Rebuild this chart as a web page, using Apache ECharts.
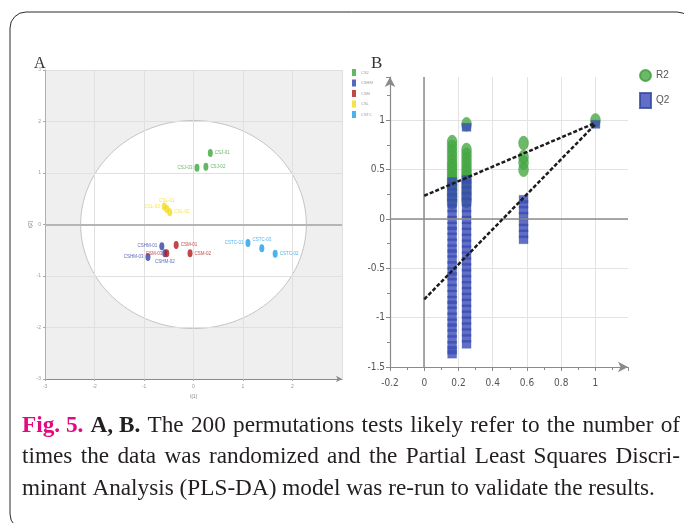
<!DOCTYPE html>
<html><head><meta charset="utf-8">
<script src="https://cdn.jsdelivr.net/npm/echarts@6/dist/echarts.min.js"></script>
<style>html,body{margin:0;padding:0;background:#fff}#c{width:684px;height:523px}</style>
</head><body><div id="c"></div>
<script>
// ---------- Panel A: PLS-DA scores ----------
const groupsA = ['CSJ', 'CSHM', 'CSM', 'CSL', 'CSTC'];
const colorsA = ['#3ca83c', '#3242a8', '#b3191c', '#f2dc1e', '#1e9fe8'];
const namesCSJ = ['CSJ-01', 'CSJ-03', 'CSJ-02'];
const xCSJ = [0.34, 0.07, 0.25];
const yCSJ = [1.39, 1.10, 1.12];
const namesCSHM = ['CSHM-01', 'CSHM-03', 'CSHM-02'];
const xCSHM = [-0.64, -0.92, -0.58];
const yCSHM = [-0.42, -0.63, -0.56];
const namesCSM = ['CSM-01', 'CSM-03', 'CSM-02'];
const xCSM = [-0.35, -0.54, -0.07];
const yCSM = [-0.40, -0.56, -0.56];
const namesCSL = ['CSL-03', 'CSL-01', 'CSL-02'];
const xCSL = [-0.59, -0.54, -0.48];
const yCSL = [0.35, 0.30, 0.24];
const namesCSTC = ['CSTC-01', 'CSTC-03', 'CSTC-02'];
const xCSTC = [1.10, 1.38, 1.65];
const yCSTC = [-0.36, -0.46, -0.57];
const ellipseCenter = [0, 0];
const ellipseRadii = [2.28, 2.02];
const ticksA = [-3, -2, -1, 0, 1, 2, 3];

// ---------- Panel B: permutation test ----------
const xCol1 = 0.163, xCol2 = 0.247, xCol3 = 0.58, xCol4 = 1;
const r2Col1 = [0.78, 0.73, 0.68, 0.63, 0.58, 0.54, 0.5, 0.46, 0.42, 0.39, 0.35, 0.32, 0.29, 0.26, 0.23, 0.2, 0.17];
const q2Col1 = [0.38, 0.33, 0.27, 0.22, 0.16, 0.11, 0.05, -0.01, -0.07, -0.12, -0.18, -0.24, -0.3, -0.35, -0.41, -0.47, -0.53, -0.58, -0.64, -0.7, -0.76, -0.82, -0.87, -0.93, -0.99, -1.05, -1.1, -1.16, -1.22, -1.28, -1.33, -1.37];
const r2Col2 = [0.96, 0.7, 0.65, 0.6, 0.55, 0.5, 0.46, 0.42, 0.38, 0.34, 0.3, 0.26, 0.22, 0.18];
const q2Col2 = [0.93, 0.4, 0.35, 0.29, 0.23, 0.17, 0.11, 0.05, -0.01, -0.07, -0.13, -0.19, -0.25, -0.31, -0.37, -0.43, -0.49, -0.55, -0.61, -0.67, -0.73, -0.79, -0.85, -0.91, -0.97, -1.03, -1.09, -1.15, -1.21, -1.27];
const r2Col3 = [0.77, 0.63, 0.57, 0.5];
const q2Col3 = [0.2, 0.15, 0.09, 0.03, -0.03, -0.09, -0.15, -0.21];
const r2Col4 = [1.0];
const q2Col4 = [0.96];
const r2Intercept = 0.236, r2End = 0.975;
const q2Intercept = -0.814, q2End = 0.962;
const legendB = ['R2', 'Q2'];

const captionLine1 = 'The 200 permutations tests likely refer to the number of';
const captionLine2 = 'times the data was randomized and the Partial Least Squares Discri-';
const captionLine3 = 'minant Analysis (PLS-DA) model was re-run to validate the results.';

// ---------- build ----------
const ellipsePath = 'path://M0,-10 A10,10 0 1,1 0,10 A10,10 0 1,1 0,-10 Z';
const groupData = [
  [namesCSJ, xCSJ, yCSJ, ['right', 'left', 'right']],
  [namesCSHM, xCSHM, yCSHM, ['left', 'left', 'bottom']],
  [namesCSM, xCSM, yCSM, ['right', 'left', 'right']],
  [namesCSL, xCSL, yCSL, ['left', 'top', 'right']],
  [namesCSTC, xCSTC, yCSTC, ['left', 'top', 'right']]
];
const scatterA = groupsA.map((g, gi) => {
  const [nm, xs, ys, pos] = groupData[gi];
  return {
    type: 'scatter', name: g, xAxisIndex: 0, yAxisIndex: 0,
    symbol: ellipsePath, symbolSize: [5, 8],
    itemStyle: { color: colorsA[gi] },
    label: { show: true, fontSize: 4.5, color: colorsA[gi], distance: 2, formatter: p => p.name, fontFamily: 'Liberation Sans' },
    data: xs.map((x, i) => ({ value: [x, ys[i]], name: nm[i], label: { position: pos[i] } })),
    z: 3
  };
});

function colPairs(x, vals) { return vals.map(v => [x, v]); }
const r2Data = [].concat(colPairs(xCol1, r2Col1), colPairs(xCol2, r2Col2), colPairs(xCol3, r2Col3), colPairs(xCol4, r2Col4));
const q2Data = [].concat(colPairs(xCol1, q2Col1), colPairs(xCol2, q2Col2), colPairs(xCol3, q2Col3), colPairs(xCol4, q2Col4));

// caption layout (measured)
const ctx = document.createElement('canvas').getContext('2d');
function mw(t, f) { ctx.font = f; return ctx.measureText(t).width; }
const fam = '"Liberation Serif", "Times New Roman", serif';
let fs = 633 / (mw(captionLine3, '100px ' + fam) / 100);
if (!(fs > 16 && fs < 26)) fs = 21;
const fReg = fs + 'px ' + fam, fBold = 'bold ' + fs + 'px ' + fam;
const capEls = [];
function placeLine(segs, y, x0, x1, justify) {
  const widths = segs.map(s => mw(s.t, s.f));
  const total = widths.reduce((a, b) => a + b, 0);
  const sp = justify ? (x1 - x0 - total) / (segs.length - 1) : mw(' ', fReg);
  let x = x0;
  segs.forEach((s, i) => {
    capEls.push({ type: 'text', x: x, y: y, silent: true,
      style: { text: s.t, font: s.f, fill: s.c || '#231f20', align: 'left', verticalAlign: 'middle' } });
    x += widths[i] + sp;
  });
}
const words = s => s.split(' ').map(t => ({ t, f: fReg }));
placeLine([{ t: 'Fig. 5.', f: fBold, c: '#e4097f' }, { t: 'A, B.', f: fBold }].concat(words(captionLine1)), 426, 22, 680, true);
placeLine(words(captionLine2), 457, 22, 680, true);
placeLine(words(captionLine3), 489, 22, 680, false);

const tickFontB = { fontSize: 10, color: '#555', fontFamily: '"Liberation Sans Narrow", "DejaVu Sans Condensed", sans-serif' };

const option = {
  animation: false,
  backgroundColor: '#fff',
  grid: [
    { left: 45, top: 70, width: 297, height: 309, show: false },
    { left: 390, top: 77, width: 238, height: 290, show: false }
  ],
  xAxis: [
    { gridIndex: 0, type: 'value', min: -3, max: 3, interval: 1,
      name: 't[1]', nameLocation: 'middle', nameGap: 15, nameTextStyle: { fontSize: 5, color: '#888' },
      axisLine: { onZero: false, lineStyle: { color: '#8a8a8a' }, symbol: ['none', 'arrow'], symbolSize: [5, 6] },
      axisTick: { show: true, length: 2, lineStyle: { color: '#aaa' } },
      axisLabel: { fontSize: 5, color: '#999', margin: 5, showMaxLabel: false },
      splitLine: { show: true, lineStyle: { color: '#e0e0e0', width: 1 } } },
    { gridIndex: 1, type: 'value', min: -0.2, max: 1.19, interval: 0.2,
      axisLine: { onZero: false, lineStyle: { color: '#8a8a8a', width: 1.2 }, symbol: ['none', 'arrow'], symbolSize: [8, 10] },
      axisTick: { show: true, length: 4, inside: false, lineStyle: { color: '#8a8a8a' } },
      minorTick: { show: true, splitNumber: 2, length: 3, lineStyle: { color: '#8a8a8a' } },
      axisLabel: Object.assign({ margin: 11, showMaxLabel: false, showMinLabel: true }, tickFontB),
      splitLine: { show: true, showMinLine: false, showMaxLine: false, lineStyle: { color: '#e3e3e3' } } }
  ],
  yAxis: [
    { gridIndex: 0, type: 'value', min: -3, max: 3, interval: 1,
      name: 't[2]', nameLocation: 'middle', nameGap: 9, nameTextStyle: { fontSize: 5, color: '#888' },
      axisLine: { show: true, onZero: false, lineStyle: { color: '#b0b0b0' } },
      axisTick: { show: true, length: 2, lineStyle: { color: '#aaa' } },
      axisLabel: { fontSize: 5, color: '#999', margin: 4 },
      splitLine: { show: true, lineStyle: { color: '#e0e0e0', width: 1 } } },
    { gridIndex: 1, type: 'value', min: -1.5, max: 1.44, interval: 0.5,
      axisLine: { show: true, onZero: false, lineStyle: { color: '#8a8a8a', width: 1.2 }, symbol: ['none', 'arrow'], symbolSize: [8, 10] },
      axisTick: { show: true, length: 4, lineStyle: { color: '#8a8a8a' } },
      minorTick: { show: true, splitNumber: 2, length: 3, lineStyle: { color: '#8a8a8a' } },
      axisLabel: Object.assign({ margin: 5, showMaxLabel: false }, tickFontB),
      splitLine: { show: true, showMinLine: false, showMaxLine: false, lineStyle: { color: '#e3e3e3' } } }
  ],
  legend: [
    { data: groupsA, orient: 'vertical', left: 347, top: 64, itemWidth: 4, itemHeight: 7, itemGap: 3.5,
      icon: 'rect', textStyle: { fontSize: 4, color: '#999' }, selectedMode: false },
    { data: [{ name: legendB[0], icon: ellipsePath }, { name: legendB[1], icon: 'rect' }], orient: 'vertical', left: 634, top: 64,
      itemWidth: 11, itemHeight: 15, itemGap: 10, textStyle: { fontSize: 10, color: '#555', fontFamily: '"Liberation Sans Narrow", sans-serif' }, selectedMode: false }
  ],
  graphic: [
    { type: 'rect', shape: { x: 10, y: 12, width: 683, height: 518, r: 16 }, style: { fill: 'none', stroke: '#2a2a2a', lineWidth: 1 }, silent: true, z: 100 },
    { type: 'text', x: 34, y: 56, style: { text: 'A', font: '16px "Liberation Serif", serif', fill: '#333' }, silent: true },
    { type: 'text', x: 371, y: 55, style: { text: 'B', font: '17px "Liberation Serif", serif', fill: '#333' }, silent: true }
  ].concat(capEls),
  series: [
    { type: 'custom', xAxisIndex: 0, yAxisIndex: 0, z: -1, silent: true, clip: false, data: [[0, 0]],
      renderItem: (params, api) => {
        const tl = api.coord([ticksA[0], ticksA[ticksA.length - 1]]);
        const br = api.coord([ticksA[ticksA.length - 1], ticksA[0]]);
        const pts = [];
        for (let k = 0; k <= 160; k++) {
          const a = k / 160 * 2 * Math.PI;
          pts.push(api.coord([ellipseCenter[0] + ellipseRadii[0] * Math.cos(a), ellipseCenter[1] + ellipseRadii[1] * Math.sin(a)]));
        }
        return { type: 'group', children: [
          { type: 'rect', shape: { x: tl[0], y: tl[1], width: br[0] - tl[0], height: br[1] - tl[1] }, style: { fill: '#efefef' } },
          { type: 'polygon', shape: { points: pts }, style: { fill: '#ffffff', stroke: '#c4c4c4', lineWidth: 1 } }
        ] };
      } },
    { type: 'line', xAxisIndex: 0, yAxisIndex: 0, data: [], silent: true,
      markLine: { silent: true, symbol: 'none', label: { show: false }, lineStyle: { color: '#b5b5b5', width: 2, type: 'solid' }, data: [{ yAxis: 0 }] } }
  ].concat(scatterA).concat([
    { type: 'scatter', name: 'R2', xAxisIndex: 1, yAxisIndex: 1, symbol: ellipsePath, symbolSize: [10, 14],
      itemStyle: { color: '#46a844', borderColor: '#3f9c3e', borderWidth: 0.4 }, data: r2Data, z: 3,
      markLine: { silent: true, symbol: 'none', label: { show: false }, lineStyle: { color: '#8c8c8c', width: 1.5, type: 'solid' }, data: [{ xAxis: 0 }, { yAxis: 0 }] } },
    { type: 'scatter', name: 'Q2', xAxisIndex: 1, yAxisIndex: 1, symbol: 'rect', symbolSize: [9, 8],
      itemStyle: { color: '#3a4cb6', borderColor: '#34449f', borderWidth: 0.3 }, data: q2Data, z: 4 },
    { type: 'line', xAxisIndex: 1, yAxisIndex: 1, symbol: 'none', silent: true, z: 5,
      lineStyle: { color: '#1c1c1c', width: 2.5, type: [4, 2] }, data: [[0, r2Intercept], [1, r2End]] },
    { type: 'line', xAxisIndex: 1, yAxisIndex: 1, symbol: 'none', silent: true, z: 5,
      lineStyle: { color: '#1c1c1c', width: 2.5, type: [4, 2] }, data: [[0, q2Intercept], [1, q2End]] }
  ])
};
const chart = echarts.init(document.getElementById('c'), null, { renderer: 'canvas' });
chart.setOption(option);
</script>
</body></html>
